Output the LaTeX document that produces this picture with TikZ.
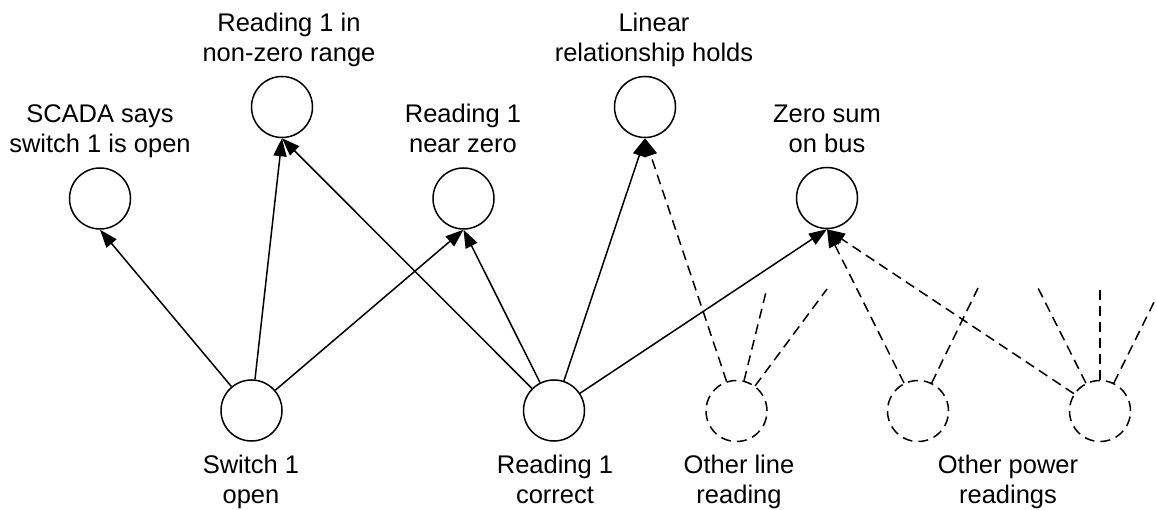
\documentclass[tikz,border=0pt]{standalone}
\usepackage{fontspec}
\setmainfont{Liberation Sans}
\usetikzlibrary{arrows.meta}
\begin{document}
\begin{tikzpicture}[x=1pt,y=-1pt,
  state/.style={circle,draw,line width=1.5pt,minimum size=61pt,inner sep=0pt},
  hidden/.style={state,dash pattern=on 10pt off 6pt},
  lbl/.style={align=center,inner sep=0pt,anchor=base,font=\fontsize{25.5}{30}\selectfont},
  link/.style={line width=1.5pt,-{Triangle[length=18pt,width=13pt]}},
  dlink/.style={link,dash pattern=on 10pt off 6pt},
  stub/.style={line width=1.5pt,dash pattern=on 10pt off 6pt}]
\fill[white] (0,0) rectangle (1156,510);
\clip (0,0) rectangle (1156,510);

% top nodes
\node[state] (scada) at (100,198.5) {};
\node[state] (nonzero) at (282,107) {};
\node[state] (nearzero) at (463.5,198.5) {};
\node[state] (linear) at (645,107) {};
\node[state] (zerosum) at (827,198) {};
% bottom nodes
\node[state] (switch) at (251.5,410.5) {};
\node[state] (correct) at (554,410.5) {};
\node[hidden] (otherline) at (736.5,411) {};
\node[hidden] (otherpa) at (918,411) {};
\node[hidden] (otherpb) at (1100,411) {};

% labels (anchor = baseline of last line)
\node[lbl] (scadaL) at (100,153) {SCADA says\\switch 1 is open};
\node[lbl] (nonzeroL) at (289,62) {Reading 1 in\\non-zero range};
\node[lbl] (nearzeroL) at (463,153) {Reading 1\\near zero};
\node[lbl] (linearL) at (654,62) {Linear\\relationship holds};
\node[lbl] (zerosumL) at (827,153) {Zero sum\\on bus};
\node[lbl] (switchL) at (251,503) {Switch 1\\open};
\node[lbl] (correctL) at (555,503) {Reading 1\\correct};
\node[lbl] (otherlineL) at (739,503) {Other line\\reading};
\node[lbl] (otherpL) at (1008,503) {Other power\\readings};

% solid edges
\draw[link] (switch) -- (scada.south);
\draw[link] (switch) -- (nonzero.south);
\draw[link] (switch) -- (nearzero.south);
\draw[link] (correct) -- (nonzero.south);
\draw[link] (correct) -- (nearzero.south);
\draw[link] (correct) -- (linear.south);
\draw[link] (correct) -- (zerosum.south);

% dashed edges
\draw[dlink] (otherline) -- (linear.south);
\draw[dlink] (otherpa) -- (zerosum.south);
\draw[dlink] (otherpb) -- (zerosum.south);

% dangling stubs
\coordinate (s1) at (766,292);
\coordinate (s2) at (827,289);
\coordinate (s3) at (978,288);
\coordinate (s4) at (1038,288);
\coordinate (s5) at (1100,288);
\coordinate (s6) at (1161,288);
\draw[stub] (otherline) -- (s1);
\draw[stub] (otherline) -- (s2);
\draw[stub] (otherpa) -- (s3);
\draw[stub] (otherpb) -- (s4);
\draw[stub] (otherpb) -- (s5);
\draw[stub] (otherpb) -- (s6);
\end{tikzpicture}
\end{document}
